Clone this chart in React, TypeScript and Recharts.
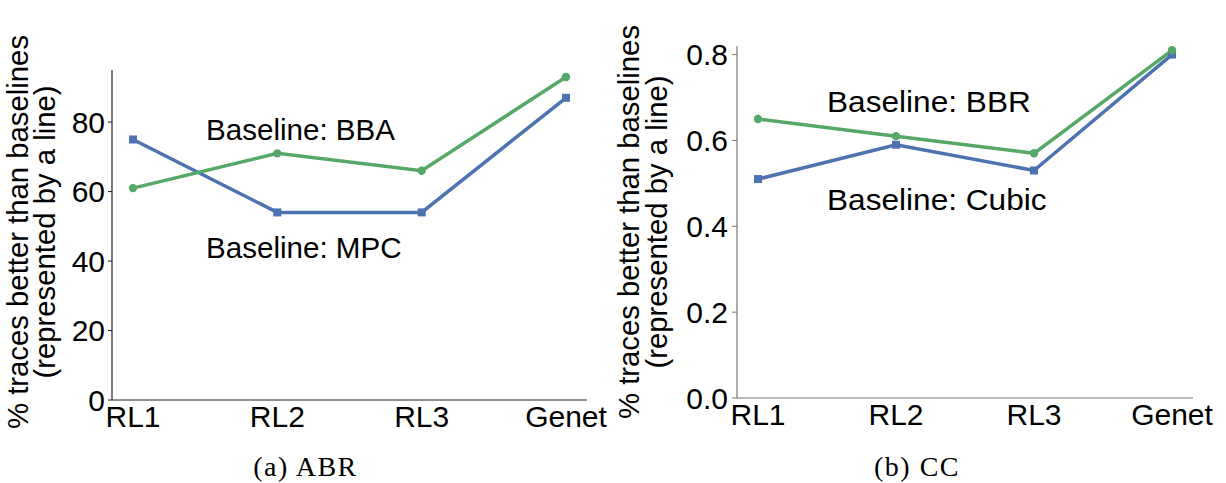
import React from 'react';
import { LineChart, Line, XAxis, YAxis } from 'recharts';

const categories = ['RL1', 'RL2', 'RL3', 'Genet'];

// (a) ABR
const abrBBA = [61, 71, 66, 93];
const abrMPC = [75, 54, 54, 87];
const abrTicks = [0, 20, 40, 60, 80];

// (b) CC
const ccBBR = [0.65, 0.61, 0.57, 0.81];
const ccCubic = [0.51, 0.59, 0.53, 0.8];
const ccTicks = [0, 0.2, 0.4, 0.6, 0.8];

const BLUE = '#4C72B0';
const GREEN = '#55A868';
const SANS = '"Liberation Sans", Arial, sans-serif';
const SERIF = '"Liberation Serif", "Times New Roman", serif';

const abrData = categories.map((name, i) => ({ name, bba: abrBBA[i], mpc: abrMPC[i] }));
const ccData = categories.map((name, i) => ({ name, bbr: ccBBR[i], cubic: ccCubic[i] }));

const squareDot = (props: any) => {
  const { cx, cy, index } = props;
  return <rect key={`sq-${index}`} x={cx - 4} y={cy - 4} width={8} height={8} fill={BLUE} />;
};

const roundDot = (props: any) => {
  const { cx, cy, index } = props;
  return <circle key={`c-${index}`} cx={cx} cy={cy} r={4.2} fill={GREEN} />;
};

const tickStyle = { fontSize: 30, fill: '#000', fontFamily: SANS };

function YTitle({ x1, x2, cy }: { x1: number; x2: number; cy: number }) {
  return (
    <g fontFamily={SANS} fontSize={29.3} fill="#000" textAnchor="middle">
      <text transform={`translate(${x1},${cy}) rotate(-90)`}>% traces better than baselines</text>
      <text transform={`translate(${x2},${cy}) rotate(-90)`}>(represented by a line)</text>
    </g>
  );
}

// annotation text, sx stretches it sideways (right panel is drawn a bit wider)
function Note({ x, y, sx = 1, children }: { x: number; y: number; sx?: number; children: React.ReactNode }) {
  return (
    <text transform={`translate(${x},${y}) scale(${sx},1)`} fontFamily={SANS} fontSize={29} fill="#000">
      {children}
    </text>
  );
}

export default function App() {
  return (
    <div style={{ position: 'absolute', left: 0, top: 0, width: 1226, height: 483, background: '#fff', fontFamily: SANS }}>
      <div style={{ position: 'absolute', left: 0, top: 0 }}>
        <LineChart width={613} height={483} data={abrData} margin={{ top: 70, right: 26, bottom: 43, left: 52 }}>
          <XAxis
            dataKey="name"
            height={40}
            padding={{ left: 21, right: 21 }}
            tickLine={false}
            tickSize={0}
            tickMargin={6}
            axisLine={{ stroke: '#222', strokeWidth: 1.2 }}
            tick={tickStyle}
            interval={0}
          />
          <YAxis
            width={60}
            domain={[0, 95]}
            ticks={abrTicks}
            tickSize={4}
            tickMargin={3}
            axisLine={{ stroke: '#222', strokeWidth: 1.2 }}
            tickLine={{ stroke: '#222' }}
            tick={tickStyle}
          />
          <Line dataKey="mpc" stroke={BLUE} strokeWidth={3.5} dot={squareDot} isAnimationActive={false} />
          <Line dataKey="bba" stroke={GREEN} strokeWidth={3.5} dot={roundDot} isAnimationActive={false} />
        </LineChart>
      </div>
      <div style={{ position: 'absolute', left: 613, top: 0 }}>
        <LineChart width={613} height={483} data={ccData} margin={{ top: 46, right: 33, bottom: 45, left: 64 }}>
          <XAxis
            dataKey="name"
            height={40}
            padding={{ left: 21, right: 21 }}
            tickLine={false}
            tickSize={0}
            tickMargin={6}
            axisLine={{ stroke: '#777', strokeWidth: 1.2 }}
            tick={tickStyle}
            interval={0}
          />
          <YAxis
            width={60}
            domain={[0, 0.82]}
            ticks={ccTicks}
            tickFormatter={(v: number) => v.toFixed(1)}
            tickSize={5}
            tickMargin={4}
            axisLine={{ stroke: '#777', strokeWidth: 1.2 }}
            tickLine={{ stroke: '#777' }}
            tick={tickStyle}
          />
          <Line dataKey="cubic" stroke={BLUE} strokeWidth={3.5} dot={squareDot} isAnimationActive={false} />
          <Line dataKey="bbr" stroke={GREEN} strokeWidth={3.5} dot={roundDot} isAnimationActive={false} />
        </LineChart>
      </div>
      <svg width={1226} height={483} style={{ position: 'absolute', left: 0, top: 0, pointerEvents: 'none' }}>
        <YTitle x1={28} x2={55} cy={232} />
        <YTitle x1={639} x2={667} cy={222} />
        <Note x={206} y={139.5} sx={1.02}>Baseline: BBA</Note>
        <Note x={206} y={257.5} sx={1.02}>Baseline: MPC</Note>
        <Note x={827} y={111.5} sx={1.09}>Baseline: BBR</Note>
        <Note x={827} y={210} sx={1.09}>Baseline: Cubic</Note>
        <g fontFamily={SERIF} fontSize={28} fill="#000" textAnchor="middle" letterSpacing={1.5}>
          <text x={305.5} y={476}>(a) ABR</text>
          <text x={917} y={476}>(b) CC</text>
        </g>
      </svg>
    </div>
  );
}
